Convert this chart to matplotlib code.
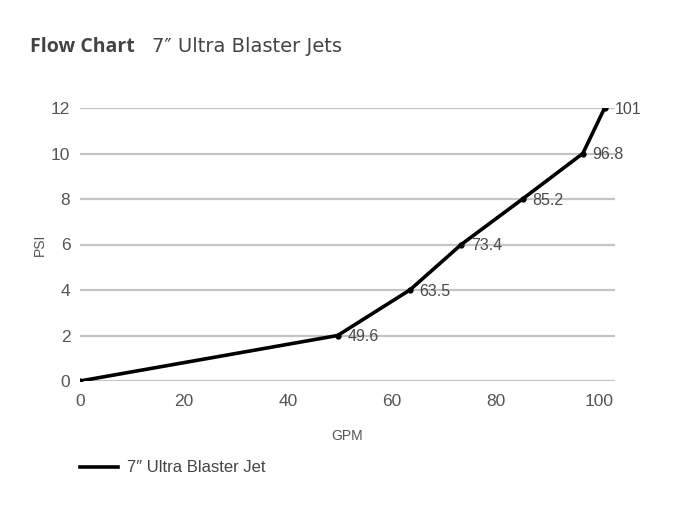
import matplotlib
matplotlib.use("Agg")
import matplotlib.pyplot as plt

gpm = [0, 49.6, 63.5, 73.4, 85.2, 96.8, 101]
psi = [0, 2, 4, 6, 8, 10, 12]
point_labels = ["", "49.6", "63.5", "73.4", "85.2", "96.8", "101"]
x_ticks = [0, 20, 40, 60, 80, 100]
y_ticks = [0, 2, 4, 6, 8, 10, 12]
series_name = "7\u2033 Ultra Blaster Jet"

plt.rcParams['font.family'] = ['Liberation Sans', 'DejaVu Sans']
txt = '#555555'

fig = plt.figure(figsize=(7, 5.09), dpi=100)
ax = fig.add_axes([80/700, 1-381/509, 535/700, 273/509])

for y in y_ticks:
    ax.axhline(y, color='#c4c4c4', lw=1.6, zorder=1)

line, = ax.plot(gpm, psi, color='black', lw=2.6, marker='o', ms=3.5, zorder=3,
                solid_joinstyle='miter')
for x, y, lab in zip(gpm, psi, point_labels):
    if lab:
        ax.annotate(lab, (x, y), xytext=(7, -1), textcoords='offset points',
                    ha='left', va='center', fontsize=11.5, color='#4a4a4a', zorder=4)

ax.set_xlim(0, 103)
ax.set_ylim(0, 12)
ax.set_xticks(x_ticks)
ax.set_yticks(y_ticks)
ax.tick_params(length=0, labelsize=12.5, labelcolor=txt)
ax.tick_params(axis='x', pad=9)
ax.tick_params(axis='y', pad=7)
for s in ax.spines.values():
    s.set_visible(False)
ax.set_xlabel("GPM", fontsize=10, color=txt, labelpad=15)
ax.set_ylabel("PSI", fontsize=10, color=txt, labelpad=3)

fig.text(30/700, 1-47/509, "Flow Chart", fontsize=14, fontweight='bold', color='#444444',
         va='center', ha='left', family='Open Sans')
fig.text(152/700, 1-47/509, "7\u2033 Ultra Blaster Jets", fontsize=14, color='#444444',
         va='center', ha='left', family='DejaVu Sans')

fig.add_artist(plt.Line2D([80/700, 118/700], [1-467/509, 1-467/509], color='black', lw=2.6))
fig.text(127/700, 1-467/509, series_name, fontsize=12, color='#444444', va='center', ha='left')

fig.savefig("out.png", dpi=100, facecolor='white')
